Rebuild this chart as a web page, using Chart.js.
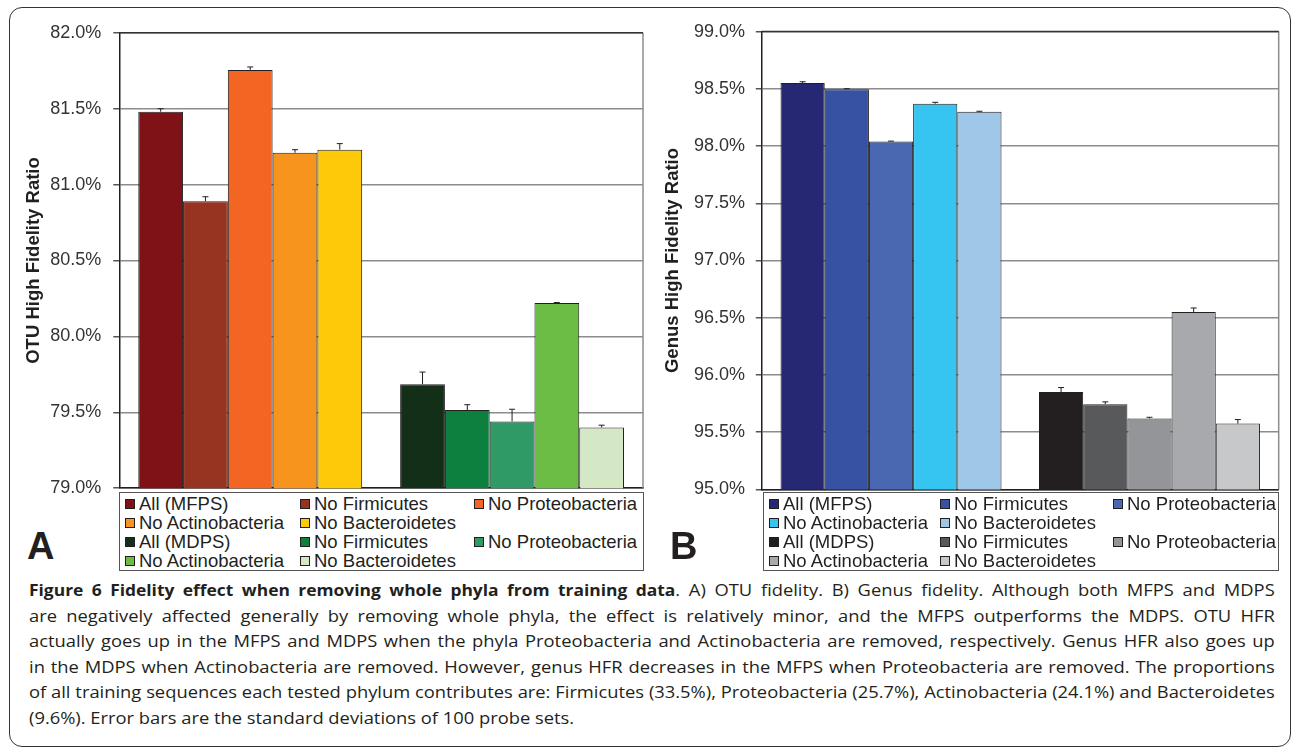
<!DOCTYPE html>
<html>
<head>
<meta charset="utf-8">
<script src="https://cdn.jsdelivr.net/npm/chart.js@4.4.1/dist/chart.umd.min.js"></script>
<style>
  html, body { margin:0; padding:0; background:#fff; }
  body { width:1292px; height:748px; position:relative; overflow:hidden; font-family:'Liberation Sans', Arial, sans-serif; color:#231f20; }
  #frame { position:absolute; left:9px; top:7px; width:1280px; height:738px; border:1.5px solid #333; border-radius:13px; }
  canvas { position:absolute; }
  #cA { left:10px; top:10px; }
  #cB { left:650px; top:10px; }
  .legend { position:absolute; border:1px solid #555; background:#fff; box-sizing:border-box; font-size:18.5px; line-height:19px; padding-top:1px; }
  .legend .row { position:relative; height:19px; white-space:nowrap; }
  .legend .item { position:absolute; top:0; }
  .legend .sw { display:inline-block; width:8px; height:8px; border:1px solid #231f20; margin-right:4px; vertical-align:1px; }
  .panel { position:absolute; font-weight:bold; font-size:38px; line-height:38px; }
  #caption { position:absolute; left:29px; top:578px; width:1087px; font-family:'Open Sans', sans-serif; font-size:16px; line-height:25.6px; color:#231f20; transform:scaleX(1.146); transform-origin:0 0; }
  #caption b { font-size:15.2px; }
  #caption .ln { white-space:nowrap; text-align:justify; text-align-last:justify; height:25.6px; }
  #caption .ln.last { text-align-last:left; }
</style>
</head>
<body>
<div id="frame"></div>
<canvas id="cA" width="640" height="501" style="width:640px;height:501px"></canvas>
<canvas id="cB" width="640" height="501" style="width:640px;height:501px"></canvas>
<div class="legend" id="legA" style="left:119px;top:492px;width:525px;height:79px;"></div>
<div class="legend" id="legB" style="left:763px;top:492px;width:516px;height:79px;"></div>
<div class="panel" style="left:27px;top:527px;">A</div>
<div class="panel" style="left:670px;top:527px;">B</div>
<div id="caption">
  <div class="ln"><b>Figure 6 Fidelity effect when removing whole phyla from training data</b>. A) OTU fidelity. B) Genus fidelity. Although both MFPS and MDPS</div>
  <div class="ln">are negatively affected generally by removing whole phyla, the effect is relatively minor, and the MFPS outperforms the MDPS. OTU HFR</div>
  <div class="ln">actually goes up in the MFPS and MDPS when the phyla Proteobacteria and Actinobacteria are removed, respectively. Genus HFR also goes up</div>
  <div class="ln">in the MDPS when Actinobacteria are removed. However, genus HFR decreases in the MFPS when Proteobacteria are removed. The proportions</div>
  <div class="ln">of all training sequences each tested phylum contributes are: Firmicutes (33.5%), Proteobacteria (25.7%), Actinobacteria (24.1%) and Bacteroidetes</div>
  <div class="ln last">(9.6%). Error bars are the standard deviations of 100 probe sets.</div>
</div>
<script>
// ---- data ----
const groups = ['MFPS', 'MDPS'];
const seriesMFPS = ['All (MFPS)', 'No Firmicutes', 'No Proteobacteria', 'No Actinobacteria', 'No Bacteroidetes'];
const seriesMDPS = ['All (MDPS)', 'No Firmicutes', 'No Proteobacteria', 'No Actinobacteria', 'No Bacteroidetes'];

const otuMFPS     = [81.48, 80.89, 81.755, 81.21, 81.23];
const otuMFPSErr  = [0.02, 0.03, 0.02, 0.02, 0.04];
const otuMDPS     = [79.685, 79.515, 79.44, 80.22, 79.40];
const otuMDPSErr  = [0.08, 0.035, 0.08, 0.003, 0.015];

const genusMFPS    = [98.55, 98.497, 98.04, 98.37, 98.30];
const genusMFPSErr = [0.012, 0.004, 0.003, 0.012, 0.004];
const genusMDPS    = [95.85, 95.745, 95.62, 96.55, 95.575];
const genusMDPSErr = [0.04, 0.02, 0.01, 0.035, 0.035];

const otuTicks   = { min: 79.0, max: 82.0, step: 0.5 };
const genusTicks = { min: 95.0, max: 99.0, step: 0.5 };

const colorsA_MFPS = ['#7f1216', '#963421', '#f26522', '#f7941d', '#fdc908'];
const colorsA_MDPS = ['#132f18', '#0d7f3f', '#2f9a66', '#6cbd45', '#d4e8c6'];
const colorsB_MFPS = ['#262873', '#3751a3', '#4a67b1', '#36c5f0', '#9fc7e8'];
const colorsB_MDPS = ['#231f20', '#58595b', '#939598', '#a7a9ac', '#c7c8ca'];

// ---- helpers ----
function buildDatasets(vals1, err1, vals2, err2, col1, col2) {
  const ds = [];
  seriesMFPS.forEach((lab, i) => ds.push({
    label: lab, data: [vals1[i], null], err: [err1[i], null],
    backgroundColor: col1[i], borderColor: '#231f20', borderWidth: 1, borderSkipped: false
  }));
  seriesMDPS.forEach((lab, i) => ds.push({
    label: lab, data: [null, vals2[i]], err: [null, err2[i]],
    backgroundColor: col2[i], borderColor: '#231f20', borderWidth: 1, borderSkipped: false
  }));
  return ds;
}

const errorBars = {
  id: 'errorBars',
  afterDatasetsDraw(chart) {
    const ctx = chart.ctx, y = chart.scales.y;
    ctx.save();
    ctx.strokeStyle = '#231f20';
    ctx.lineWidth = 1;
    chart.data.datasets.forEach((ds, di) => {
      const meta = chart.getDatasetMeta(di);
      meta.data.forEach((el, i) => {
        const v = ds.data[i];
        if (v == null) return;
        const top = y.getPixelForValue(v + ds.err[i]);
        ctx.beginPath();
        ctx.moveTo(el.x, el.y); ctx.lineTo(el.x, top);
        ctx.moveTo(el.x - 3, top); ctx.lineTo(el.x + 3, top);
        ctx.stroke();
      });
    });
    ctx.restore();
  }
};

const frameBorders = {
  id: 'frameBorders',
  afterDraw(chart) {
    const a = chart.chartArea, ctx = chart.ctx;
    ctx.save();
    ctx.lineWidth = 1.5;
    ctx.strokeStyle = '#8c8c8c';
    ctx.beginPath(); ctx.moveTo(a.right, a.top); ctx.lineTo(a.right, a.bottom); ctx.stroke();
    ctx.strokeStyle = '#333';
    ctx.beginPath(); ctx.moveTo(a.left, a.top); ctx.lineTo(a.right, a.top); ctx.stroke();
    ctx.restore();
  }
};

function makeChart(id, datasets, ticks, title, axisW, padRight, tickPad, titlePad) {
  return new Chart(document.getElementById(id), {
    type: 'bar',
    data: { labels: groups, datasets },
    plugins: [errorBars, frameBorders],
    options: {
      responsive: false,
      animation: false,
      layout: { padding: { left: 0, right: padRight, top: 21, bottom: 2 } },
      datasets: { bar: { skipNull: true, categoryPercentage: 0.855, barPercentage: 1.0 } },
      plugins: { legend: { display: false }, tooltip: { enabled: false } },
      scales: {
        x: {
          ticks: { display: false },
          grid: { display: false, drawTicks: false },
          border: { display: true, color: '#231f20', width: 1.5 }
        },
        y: {
          min: ticks.min, max: ticks.max,
          afterFit(s) { s.width = axisW; },
          ticks: {
            stepSize: ticks.step, padding: tickPad, color: '#333',
            font: { family: "'Liberation Sans', Arial, sans-serif", size: 18 },
            callback: v => Number(v).toFixed(1) + '%'
          },
          grid: { color: '#8c8c8c', lineWidth: 1.5, tickLength: 6, tickColor: '#555' },
          border: { display: true, color: '#231f20', width: 1.5 },
          title: {
            display: true, text: title, color: '#231f20',
            font: { family: "'Liberation Sans', Arial, sans-serif", size: 18.5, weight: 'bold', lineHeight: 1.2 },
            padding: { top: titlePad, bottom: 0 }
          }
        }
      }
    }
  });
}

const chartA = makeChart('cA', buildDatasets(otuMFPS, otuMFPSErr, otuMDPS, otuMDPSErr, colorsA_MFPS, colorsA_MDPS),
  otuTicks, 'OTU High Fidelity Ratio', 109.3, 7, 12, 13);
const chartB = makeChart('cB', buildDatasets(genusMFPS, genusMFPSErr, genusMDPS, genusMDPSErr, colorsB_MFPS, colorsB_MDPS),
  genusTicks, 'Genus High Fidelity Ratio', 111.8, 11.3, 10.8, 11.9);

// ---- HTML legends from the chart datasets ----
function buildLegend(el, chart, cols) {
  const ds = chart.data.datasets;
  const rows = [[0,1,2],[3,4],[5,6,7],[8,9]];
  rows.forEach(r => {
    const row = document.createElement('div'); row.className = 'row';
    r.forEach((di, k) => {
      const it = document.createElement('span'); it.className = 'item';
      it.style.left = cols[k] + 'px';
      const sw = document.createElement('span'); sw.className = 'sw';
      sw.style.background = ds[di].backgroundColor;
      it.appendChild(sw);
      it.appendChild(document.createTextNode(ds[di].label));
      row.appendChild(it);
    });
    el.appendChild(row);
  });
}
buildLegend(document.getElementById('legA'), chartA, [5, 180, 354]);
buildLegend(document.getElementById('legB'), chartB, [5, 176, 349]);
</script>
</body>
</html>
